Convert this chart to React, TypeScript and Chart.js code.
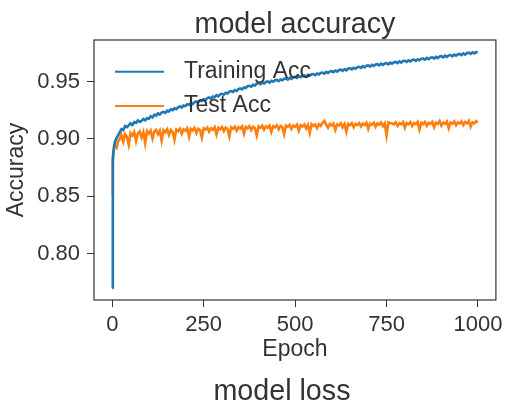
import React, { useEffect, useRef } from 'react';
import { Chart, registerables } from 'chart.js';

Chart.register(...registerables);

const EPOCHS = [
  0, 1, 2, 3, 5, 8, 12, 16, 20,
  25, 30, 35, 40, 45, 50, 55, 60, 65, 70, 75, 80, 85, 90, 95, 100,
  105, 110, 115, 120, 125, 130, 135, 140, 145, 150,
  155, 160, 165, 170, 175, 180, 185, 190, 195, 200, 205, 210, 215, 220, 225, 230, 235, 240, 245, 250,
  255, 260, 265, 270, 275, 280, 285, 290, 295, 300, 305, 310, 315, 320, 325, 330, 335, 340, 345, 350,
  355, 360, 365, 370, 375, 380, 385, 390, 395, 400,
  405, 410, 415, 420, 425, 430, 435, 440, 445, 450, 455, 460, 465, 470, 475, 480, 485, 490, 495, 500,
  505, 510, 515, 520, 525, 530, 535, 540, 545, 550, 555, 560, 565, 570, 575, 580, 585, 590, 595, 600,
  605, 610, 615, 620, 625, 630, 635, 640, 645, 650, 655, 660, 665, 670, 675, 680, 685, 690, 695, 700,
  705, 710, 715, 720, 725, 730, 735, 740, 745, 750, 755, 760, 765, 770, 775, 780, 785, 790, 795, 800,
  805, 810, 815, 820, 825, 830, 835, 840, 845, 850, 855, 860, 865, 870, 875, 880, 885, 890, 895, 900,
  905, 910, 915, 920, 925, 930, 935, 940, 945, 950, 955, 960, 965, 970, 975, 980, 985, 990, 995, 999,
];

const TRAIN_ACC = [
  0.770, 0.862, 0.880, 0.888, 0.894, 0.898, 0.901, 0.903, 0.9055,
  0.9085, 0.9078, 0.9112, 0.9103, 0.9118, 0.9136, 0.9121, 0.9146, 0.9139, 0.9162, 0.9148, 0.9157, 0.9174, 0.9163, 0.9181, 0.9176,
  0.9198, 0.9187, 0.9211, 0.9203, 0.9224, 0.9212, 0.9229, 0.9236, 0.9227, 0.9246,
  0.9239, 0.9258, 0.9251, 0.9267, 0.9259, 0.9276, 0.9284, 0.9273, 0.9291, 0.9286, 0.9302, 0.9297, 0.9313, 0.9304, 0.9321, 0.9327, 0.9318, 0.9336, 0.9331, 0.9345,
  0.9339, 0.9356, 0.9361, 0.9352, 0.9369, 0.9364, 0.9381, 0.9372, 0.9388, 0.9393, 0.9385, 0.9402, 0.9396, 0.9412, 0.9417, 0.9409, 0.9426, 0.9419, 0.9435, 0.9441,
  0.9432, 0.9449, 0.9444, 0.9459, 0.9463, 0.9455, 0.9472, 0.9466, 0.9481, 0.9486,
  0.9477, 0.9492, 0.9484, 0.9497, 0.9501, 0.9491, 0.9506, 0.9498, 0.9511, 0.9514, 0.9504, 0.9519, 0.9512, 0.9525, 0.9527, 0.9518, 0.9533, 0.9524, 0.9538, 0.9541,
  0.9532, 0.9547, 0.9538, 0.9551, 0.9554, 0.9544, 0.9559, 0.9551, 0.9564, 0.9566, 0.9557, 0.9571, 0.9563, 0.9576, 0.9579, 0.9569, 0.9584, 0.9575, 0.9589, 0.9591,
  0.9582, 0.9596, 0.9587, 0.9601, 0.9604, 0.9594, 0.9609, 0.9599, 0.9614, 0.9616, 0.9607, 0.9621, 0.9612, 0.9626, 0.9629, 0.9619, 0.9634, 0.9624, 0.9639, 0.9641,
  0.9631, 0.9646, 0.9636, 0.9649, 0.9652, 0.9641, 0.9656, 0.9646, 0.9659, 0.9661, 0.9651, 0.9665, 0.9656, 0.9669, 0.9672, 0.9661, 0.9676, 0.9665, 0.9679, 0.9681,
  0.9671, 0.9685, 0.9676, 0.9689, 0.9692, 0.9681, 0.9695, 0.9686, 0.9699, 0.9701, 0.9691, 0.9706, 0.9696, 0.9709, 0.9712, 0.9701, 0.9716, 0.9705, 0.9719, 0.9722,
  0.9711, 0.9726, 0.9716, 0.9729, 0.9732, 0.9721, 0.9736, 0.9726, 0.9739, 0.9742, 0.9731, 0.9746, 0.9735, 0.9749, 0.9752, 0.9741, 0.9755, 0.9746, 0.9758, 0.9751,
];

const TEST_ACC = [
  0.851, 0.874, 0.884, 0.889, 0.8915, 0.8945, 0.8925, 0.898, 0.8995,
  0.9035, 0.8975, 0.9042, 0.9018, 0.8948, 0.9051, 0.9029, 0.9061, 0.8982, 0.9048, 0.9066, 0.9012, 0.9058, 0.8961, 0.9069, 0.9047,
  0.9072, 0.9003, 0.9064, 0.9078, 0.9041, 0.9071, 0.8985, 0.9076, 0.9058, 0.9083,
  0.9034, 0.9079, 0.9062, 0.8992, 0.9081, 0.9068, 0.9089, 0.9045, 0.9084, 0.9071, 0.9092, 0.9018, 0.9087, 0.9074, 0.9095, 0.9052, 0.9089, 0.9078, 0.9011, 0.9093,
  0.9081, 0.9098, 0.9063, 0.9094, 0.9079, 0.9102, 0.9037, 0.9096, 0.9083, 0.9104, 0.9068, 0.9099, 0.9086, 0.9021, 0.9101, 0.9088, 0.9107, 0.9072, 0.9102, 0.9091,
  0.9109, 0.9046, 0.9104, 0.9093, 0.9112, 0.9077, 0.9106, 0.9095, 0.9031, 0.9108,
  0.9097, 0.9115, 0.9081, 0.9109, 0.9098, 0.9117, 0.9062, 0.9111, 0.9101, 0.9119, 0.9084, 0.9113, 0.9103, 0.9041, 0.9116, 0.9105, 0.9122, 0.9087, 0.9117, 0.9106,
  0.9124, 0.9071, 0.9119, 0.9108, 0.9126, 0.9091, 0.9121, 0.9052, 0.9128, 0.9112, 0.9125, 0.9094, 0.9129, 0.9114, 0.9141, 0.9158, 0.9123, 0.9097, 0.9131, 0.9116,
  0.9134, 0.9079, 0.9127, 0.9118, 0.9136, 0.9101, 0.9129, 0.9062, 0.9132, 0.9119, 0.9138, 0.9103, 0.9131, 0.9121, 0.9139, 0.9108, 0.9133, 0.9122, 0.9141, 0.9087,
  0.9134, 0.9123, 0.9142, 0.9106, 0.9135, 0.9124, 0.9143, 0.9111, 0.9136, 0.9030, 0.9144, 0.9137, 0.9137, 0.9126, 0.9145, 0.9112, 0.9138, 0.9127, 0.9146, 0.9097,
  0.9139, 0.9128, 0.9147, 0.9113, 0.9139, 0.9129, 0.9148, 0.9081, 0.9141, 0.9129, 0.9148, 0.9115, 0.9141, 0.9131, 0.9149, 0.9102, 0.9142, 0.9131, 0.9156, 0.9116,
  0.9142, 0.9132, 0.9151, 0.9093, 0.9143, 0.9133, 0.9152, 0.9118, 0.9144, 0.9134, 0.9153, 0.9121, 0.9148, 0.9135, 0.9158, 0.9108, 0.9145, 0.9136, 0.9155, 0.9141,
];

const SERIES_LABELS = ['Training Acc', 'Test Acc'];
const SERIES_COLORS = ['#1f77b4', '#ff7f0e'];
const X_TICKS = [0, 250, 500, 750, 1000];
const Y_TICKS = [0.8, 0.85, 0.9, 0.95];
const TITLE = 'model accuracy';
const NEXT_TITLE = 'model loss';
const X_TITLE = 'Epoch';
const Y_TITLE = 'Accuracy';

const FONT = "'Liberation Sans', Arial, sans-serif";
const INK = '#333333';

const decorPlugin = {
  id: 'decor',
  afterDraw(chart: any) {
    const { ctx, chartArea: a } = chart;
    ctx.save();
    ctx.strokeStyle = INK;
    ctx.lineWidth = 1.2;
    ctx.strokeRect(a.left, a.top, a.right - a.left, a.bottom - a.top);

    ctx.fillStyle = INK;
    ctx.font = `28.7px ${FONT}`;
    ctx.textAlign = 'center';
    ctx.textBaseline = 'alphabetic';
    ctx.fillText(TITLE, (a.left + a.right) / 2, a.top - 6.7);
    ctx.fillText(NEXT_TITLE, (a.left + a.right) / 2 - 13, chart.height - 2);

    chart.data.datasets.forEach((ds: any, i: number) => {
      const y = a.top + 31.7 + i * 34.3;
      ctx.strokeStyle = ds.borderColor;
      ctx.lineWidth = 2;
      ctx.beginPath();
      ctx.moveTo(a.left + 21, y);
      ctx.lineTo(a.left + 70, y);
      ctx.stroke();
      ctx.fillStyle = INK;
      ctx.font = `23px ${FONT}`;
      ctx.textAlign = 'left';
      ctx.textBaseline = 'middle';
      ctx.fillText(ds.label, a.left + 90, y);
    });
    ctx.restore();
  },
};

export default function App() {
  const canvasRef = useRef<HTMLCanvasElement | null>(null);

  useEffect(() => {
    const canvas = canvasRef.current;
    if (!canvas) return;
    const series = [TRAIN_ACC, TEST_ACC];
    const chart = new Chart(canvas, {
      type: 'line',
      data: {
        datasets: series.map((vals, i) => ({
          label: SERIES_LABELS[i],
          data: EPOCHS.map((e, j) => ({ x: e, y: vals[j] })),
          borderColor: SERIES_COLORS[i],
          backgroundColor: SERIES_COLORS[i],
          borderWidth: 2.6,
          pointRadius: 0,
          tension: 0,
          fill: false,
        })),
      },
      options: {
        animation: false,
        responsive: true,
        maintainAspectRatio: false,
        layout: { padding: { top: 40, right: 12, left: 0, bottom: 0 } },
        plugins: {
          legend: { display: false },
          title: { display: false },
          tooltip: { enabled: false },
        },
        scales: {
          x: {
            type: 'linear',
            min: -49.95,
            max: 1048.95,
            afterFit: (s: any) => { s.height = 102; },
            afterBuildTicks: (s: any) => { s.ticks = X_TICKS.map((v) => ({ value: v })); },
            grid: { display: true, drawOnChartArea: false, drawTicks: true, tickLength: 7, tickColor: INK, color: INK },
            border: { display: false },
            ticks: {
              color: INK,
              font: { family: FONT, size: 22 },
              padding: 5,
              maxRotation: 0,
              callback: (v: any) => String(v),
            },
            title: {
              display: true,
              text: X_TITLE,
              color: INK,
              font: { family: FONT, size: 23 },
              padding: { top: 0, bottom: 39 },
            },
          },
          y: {
            type: 'linear',
            min: 0.7594,
            max: 0.9863,
            afterFit: (s: any) => { s.width = 94; },
            afterBuildTicks: (s: any) => { s.ticks = Y_TICKS.map((v) => ({ value: v })); },
            grid: { display: true, drawOnChartArea: false, drawTicks: true, tickLength: 7, tickColor: INK, color: INK },
            border: { display: false },
            ticks: {
              color: INK,
              font: { family: FONT, size: 22 },
              padding: 7,
              callback: (v: any) => Number(v).toFixed(2),
            },
            title: {
              display: true,
              text: Y_TITLE,
              color: INK,
              font: { family: FONT, size: 23 },
              padding: { top: 3, bottom: 0 },
            },
          },
        },
      },
      plugins: [decorPlugin],
    });
    return () => chart.destroy();
  }, []);

  return (
    <div style={{ position: 'absolute', left: 0, top: 0, width: 508, height: 402, background: '#ffffff' }}>
      <canvas ref={canvasRef} />
    </div>
  );
}
